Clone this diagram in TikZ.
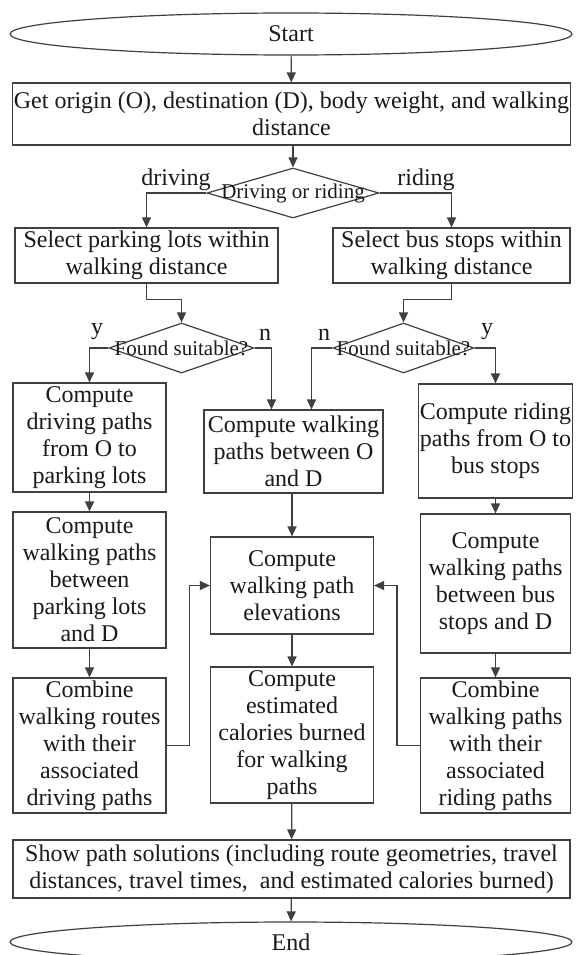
\documentclass[tikz,border=0pt]{standalone}
\usepackage{fontspec}
\setmainfont{Liberation Serif}
\usetikzlibrary{shapes.geometric,arrows.meta}
\definecolor{edge}{HTML}{404040}
\definecolor{ink}{HTML}{1A1A1A}

\begin{document}
\begin{tikzpicture}[x=1pt,y=-1pt]
\tikzset{
  box/.style={draw=edge, line width=1.2pt, rectangle, align=center, inner sep=1pt, text=ink, font=\fontsize{24}{27}\selectfont},
  decision/.style={draw=edge, line width=1.2pt, diamond, inner sep=0pt},
  terminal/.style={draw=edge, line width=1.2pt, ellipse, inner sep=0pt, text=ink, font=\fontsize{24}{27}\selectfont},
  flow/.style={draw=edge, line width=1.2pt, -{Triangle[length=10pt,width=9pt]}},
  lbl/.style={text=ink, inner sep=0pt, font=\fontsize{24}{27}\selectfont},
  dlbl/.style={text=ink, inner sep=0pt, font=\fontsize{21}{24}\selectfont}
}
\fill[white] (0,0) rectangle (577,955);
\useasboundingbox (0,0) rectangle (577,955);

\node[terminal, minimum width=562pt, minimum height=42pt] (start) at (291,34) {Start};
\node[box, minimum width=557pt, minimum height=62pt] (input) at (291.5,114) {Get origin (O), destination (D), body weight, and walking\\distance};
\node[decision, minimum width=172pt, minimum height=50pt, label={[dlbl]center:Driving or riding}] (mode) at (293,193) {};
\node[lbl] (ldrive) at (176,180) {driving};
\node[lbl] (lride) at (426,180) {riding};

\node[box, minimum width=263pt, minimum height=55pt] (selpark) at (146.5,255.5) {Select parking lots within\\walking distance};
\node[box, minimum width=237pt, minimum height=55pt] (selbus) at (451.5,255.5) {Select bus stops within\\walking distance};

\node[decision, minimum width=145pt, minimum height=50pt, label={[dlbl]center:Found suitable?}] (fitpark) at (181.5,348) {};
\node[decision, minimum width=141pt, minimum height=50pt, label={[dlbl]center:Found suitable?}] (fitbus) at (403.5,348) {};
\node[lbl] (lyes1) at (97,332) {y};
\node[lbl] (lno1) at (265,335) {n};
\node[lbl] (lno2) at (324,335) {n};
\node[lbl] (lyes2) at (487,332) {y};

\node[box, minimum width=153pt, minimum height=109pt] (drvpath) at (89.5,437.5) {Compute\\driving paths\\from O to\\parking lots};
\node[box, minimum width=179pt, minimum height=83pt] (walkod) at (293.5,451.5) {Compute walking\\paths between O\\and D};
\node[box, minimum width=149pt, minimum height=114pt] (ridepath) at (495.5,441) {Compute riding\\paths from O to\\bus stops};

\node[box, minimum width=153pt, minimum height=136pt] (walkpark) at (89.5,580) {Compute\\walking paths\\between\\parking lots\\and D};
\node[box, minimum width=163pt, minimum height=97pt] (elev) at (292,585.5) {Compute\\walking path\\elevations};
\node[box, minimum width=150pt, minimum height=139pt] (walkbus) at (495.5,583.5) {Compute\\walking paths\\between bus\\stops and D};

\node[box, minimum width=153pt, minimum height=135pt] (combdrv) at (89.5,745.5) {Combine\\walking routes\\with their\\associated\\driving paths};
\node[box, minimum width=163pt, minimum height=136pt] (calories) at (292,735) {Compute\\estimated\\calories burned\\for walking\\paths};
\node[box, minimum width=150pt, minimum height=135pt] (combride) at (495.5,745.5) {Combine\\walking paths\\with their\\associated\\riding paths};

\node[box, minimum width=557pt, minimum height=58pt] (show) at (291.5,869) {Show path solutions (including route geometries, travel\\distances, travel times,~ and estimated calories burned)};
\node[terminal, minimum width=562pt, minimum height=40pt] (stop) at (291,942) {End};

\draw[flow] (start) -- (input);
\draw[flow] (input.south -| mode.north) -- (mode.north);
\draw[flow] (mode.west) -| (selpark.north);
\draw[flow] (mode.east) -| (selbus.north);
\draw[flow] (selpark.south) -- ++(0,16) -| (fitpark.north);
\draw[flow] (selbus.south) -- ++(0,16) -| (fitbus.north);
\draw[flow] (fitpark.west) -| (drvpath.north);
\draw[flow] (fitpark.east) -| ([xshift=-22pt]walkod.north);
\draw[flow] (fitbus.west) -| ([xshift=18pt]walkod.north);
\draw[flow] (fitbus.east) -| (ridepath.north);
\draw[flow] (drvpath) -- (walkpark);
\draw[flow] (walkpark) -- (combdrv);
\draw[flow] (ridepath) -- (walkbus);
\draw[flow] (walkbus) -- (combride);
\draw[flow] (walkod.south -| elev.north) -- (elev.north);
\draw[flow] (elev) -- (calories);
\draw[flow] (calories) -- (show);
\draw[flow] (show) -- (stop);
\draw[flow] (combdrv.east) -- ++(23,0) |- (elev.west);
\draw[flow] (combride.west) -- ++(-23,0) |- (elev.east);
\end{tikzpicture}
\end{document}
